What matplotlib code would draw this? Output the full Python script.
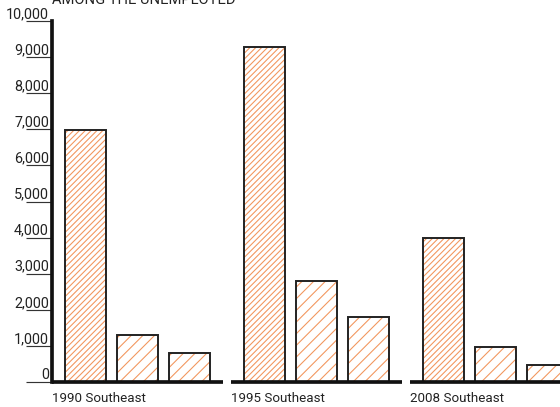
import matplotlib.pyplot as plt
from matplotlib.ticker import FuncFormatter

plt.rcParams['font.family'] = ['Roboto', 'DejaVu Sans']
plt.rcParams['hatch.linewidth'] = 0.55

title = 'AMONG THE UNEMPLOYED'
groups = ['1990 Southeast', '1995 Southeast', '2008 Southeast']
values_1990 = [6970, 1300, 810]
values_1995 = [9280, 2800, 1800]
values_2008 = [3990, 980, 470]
yticks = list(range(0, 10001, 1000))

hatches = ['////////', '////', '////']
hatch_color = '#f2955c'
edge_color = '#222222'

W, H, DPI = 560, 407, 140
fig = plt.figure(figsize=(W / DPI, H / DPI), dpi=DPI)

bottom = (H - 382) / H
top = (H - 21) / H
lefts = [52, 231, 410]
width = 171

for i, (name, vals) in enumerate(zip(groups, [values_1990, values_1995, values_2008])):
    ax = fig.add_axes([lefts[i] / W, bottom, width / W, top - bottom])
    x = range(len(vals))
    ax.bar(x, vals, width=0.8, color='none', edgecolor=hatch_color,
           linewidth=0, hatch=hatches, zorder=1)
    ax.bar(x, vals, width=0.8, color='none', edgecolor=edge_color,
           linewidth=1.0, zorder=2)
    ax.set_xlim(-0.65, 2.65)
    ax.set_ylim(0, 10000)
    ax.set_xticks([])
    for s in ['top', 'right']:
        ax.spines[s].set_visible(False)
    ax.spines['bottom'].set_linewidth(1.9)
    ax.spines['bottom'].set_color('#111111')
    ax.spines['bottom'].set_capstyle('butt')
    ax.set_xlabel(name, loc='left', fontsize=6.9, color='#222222', labelpad=5)
    if i == 0:
        ax.spines['left'].set_linewidth(1.9)
        ax.spines['left'].set_color('#111111')
        ax.set_yticks(yticks)
        ax.yaxis.set_major_formatter(FuncFormatter(lambda v, p: f'{int(v):,}'))
        ax.tick_params(axis='y', length=13.4, width=0.6, color='#333333',
                       pad=-11.8, labelsize=7.4, labelcolor='#222222')
        for lab in ax.get_yticklabels():
            lab.set_verticalalignment('bottom')
    else:
        ax.spines['left'].set_visible(False)
        ax.set_yticks([])

fig.text(52 / W, (H - 4) / H, title, fontsize=7.6, color='#222222',
         ha='left', va='baseline')

fig.savefig('out.png', dpi=DPI)
